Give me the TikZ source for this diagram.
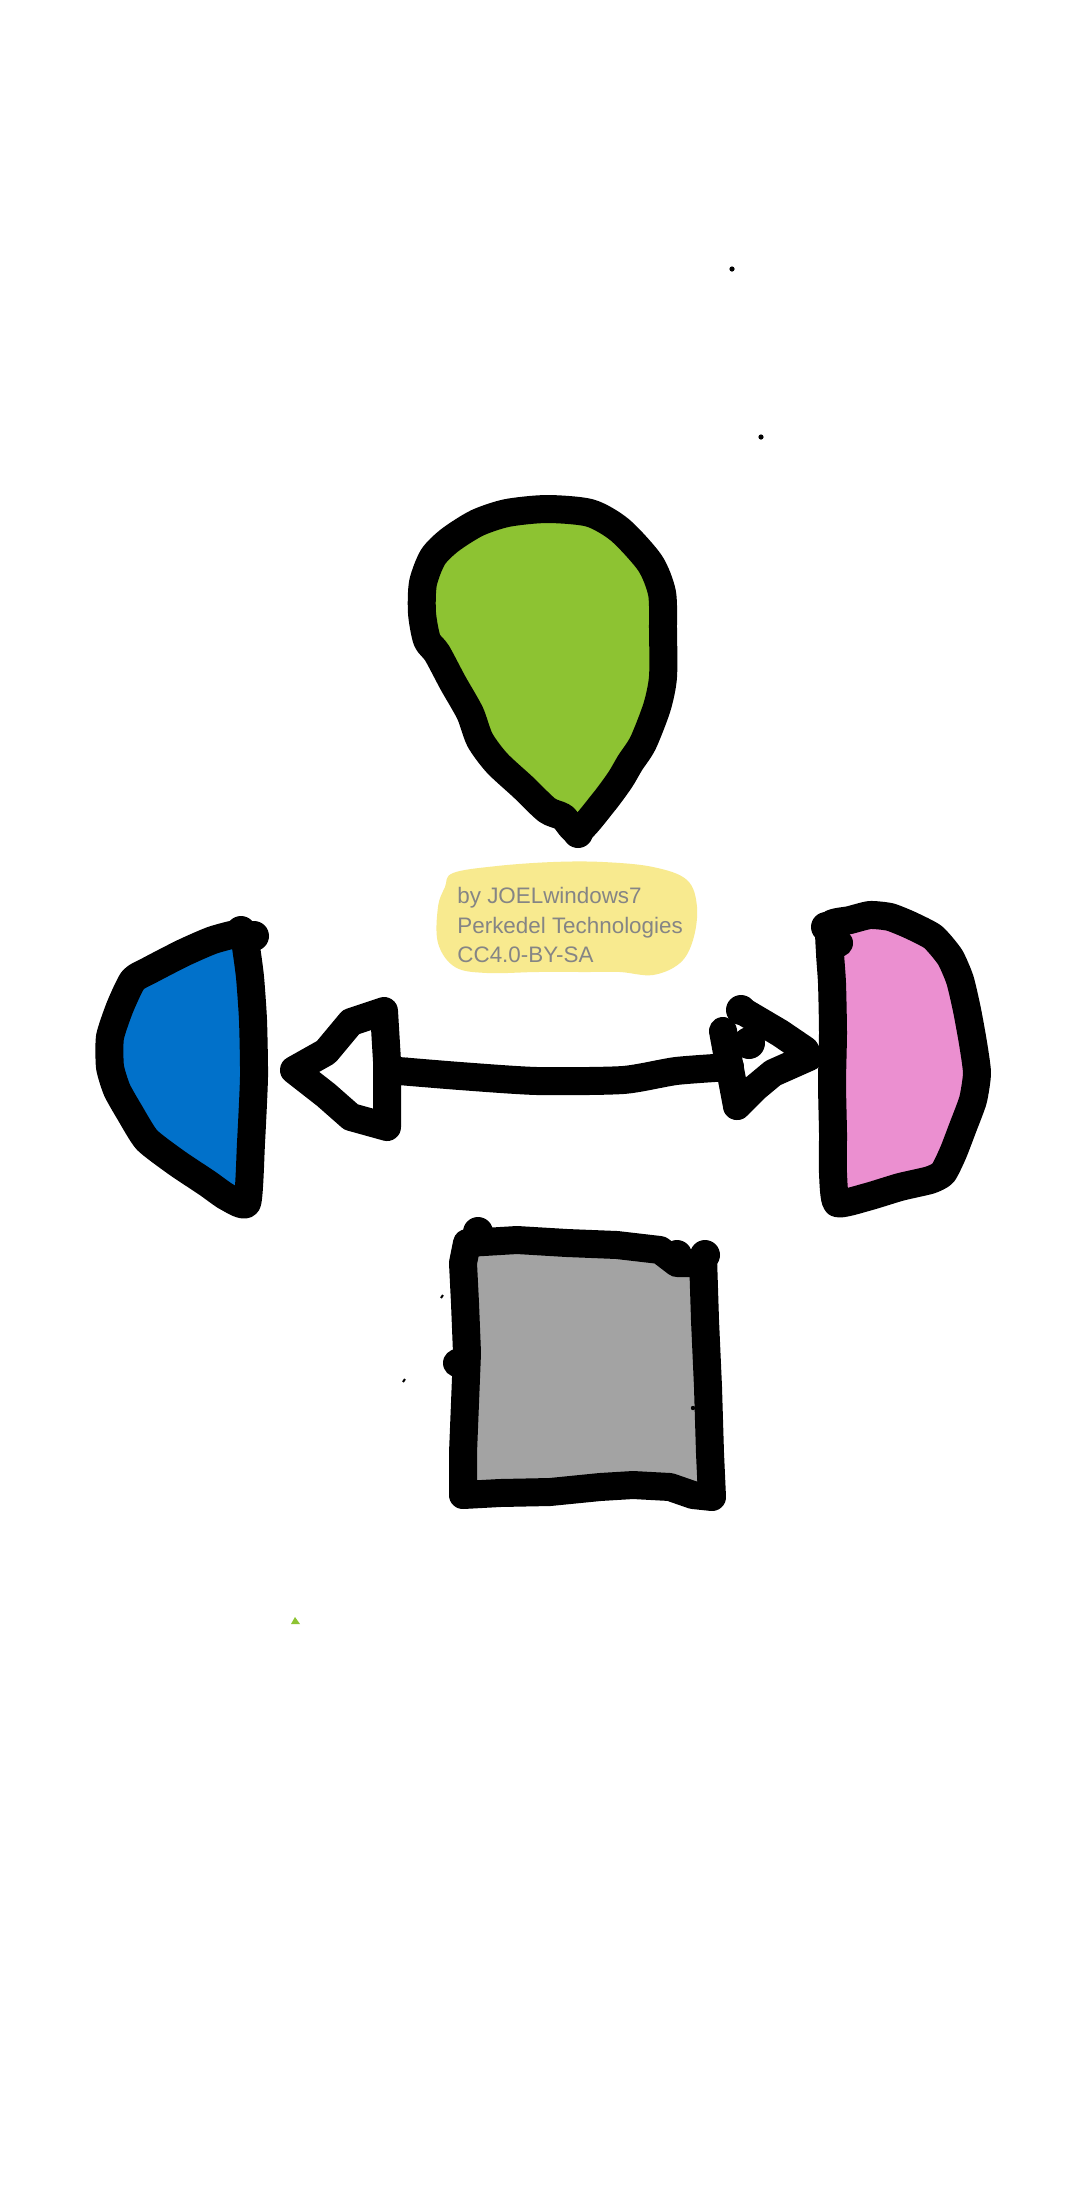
\documentclass[tikz,border=0pt]{standalone}
\usepackage{fontspec}
\setmainfont{Liberation Sans}
\definecolor{leafgreen}{HTML}{8DC332}
\definecolor{paleyellow}{HTML}{F8EA8F}
\definecolor{skyblue}{HTML}{0171CA}
\definecolor{softpink}{HTML}{EB8FD0}
\definecolor{boxgray}{HTML}{A3A3A3}
\definecolor{textgray}{HTML}{858585}
\begin{document}
\begin{tikzpicture}[x=0.5pt,y=-0.5pt,
  ink/.style={draw=black,line width=14pt,line join=round,line cap=round},
  blob/.style={fill=black},
  speck/.style={fill=black},
  credit/.style={anchor=base west,inner sep=0pt,text=textgray,font=\fontsize{11.2}{14}\selectfont}]
\useasboundingbox (0,0) rectangle (1080,2186);
\fill[white] (0,0) rectangle (1080,2186);

% green drop
\filldraw[ink,fill=leafgreen] plot[smooth cycle,tension=0.45] coordinates {
 (547,509) (590,513) (620,530) (650,563) (662,593) (663,630) (663,677) (657,707)
 (643,743) (630,763) (620,780) (603,803) (578,831) (563,817) (547,810) (523,787)
 (497,763) (480,740) (470,713) (453,683) (437,653) (427,640) (422,613) (423,583)
 (433,557) (450,540) (477,523) (507,513)};
\fill[blob] (578,833) circle[radius=7.5pt];

% yellow credit blob
\fill[paleyellow] plot[smooth cycle,tension=0.6] coordinates {
 (453,873) (497,866) (553,862) (603,862) (653,867) (687,880) (697,907) (693,940)
 (680,963) (653,975) (620,972) (587,972) (537,972) (487,973) (455,967) (438,943)
 (438,907) (445,887)};
\node[credit] (t1) at (457,903) {by JOELwindows7};
\node[credit] (t2) at (457,933) {Perkedel Technologies};
\node[credit] (t3) at (457,962) {CC4.0-BY-SA};

% blue half
\filldraw[ink,fill=skyblue] plot[smooth cycle,tension=0.35] coordinates {
 (243,933) (213,940) (183,953) (150,970) (133,980) (120,1007) (110,1037) (110,1067)
 (117,1090) (130,1113) (147,1140) (177,1163) (207,1183) (227,1197) (247,1203)
 (251,1143) (254,1077) (253,1020) (250,977) (246,947)};
\fill[blob] (241,931) circle[radius=7.5pt];
\fill[blob] (254,936) circle[radius=7.5pt];

% pink half
\filldraw[ink,fill=softpink] plot[smooth cycle,tension=0.35] coordinates {
 (830,925) (850,920) (870,915) (890,917) (910,925) (933,937) (950,957) (960,980)
 (967,1010) (973,1043) (977,1073) (973,1100) (963,1127) (953,1153) (943,1173)
 (930,1180) (900,1187) (867,1197) (837,1203) (833,1173) (833,1133) (832,1083)
 (833,1033) (832,983) (830,953)};
\fill[blob] (826,927) circle[radius=7.5pt];
\fill[blob] (839,943) circle[radius=7pt];

% double arrow
\draw[ink] plot[smooth,tension=0.4] coordinates {(387,1070) (460,1076) (537,1081) (623,1080) (676,1071) (730,1067)};
\draw[ink] (294,1070) -- (326,1052) -- (351,1022) -- (384,1011) -- (387,1061) -- (387,1097) -- (387,1127) -- (351,1117) -- (326,1095) -- cycle;
\draw[ink] (741,1010) -- (780,1033) -- (805,1050) -- (809,1057) -- (773,1073) -- (755,1088) -- (737,1106);
\draw[ink] (723,1031) -- (730,1069) -- (737,1106);
\fill[blob] (741,1010) circle[radius=7.5pt];
\fill[blob] (749,1043) circle[radius=8pt];

% gray box
\filldraw[ink,fill=boxgray] (467,1243) -- (517,1240) -- (567,1243) -- (617,1245) -- (660,1250)
 -- (677,1263) -- (703,1263) -- (703,1257) -- (705,1320) -- (708,1387) -- (710,1453) -- (712,1497)
 -- (693,1495) -- (670,1487) -- (633,1485) -- (600,1487) -- (550,1492) -- (500,1493) -- (463,1495)
 -- (463,1453) -- (465,1403) -- (467,1353) -- (465,1303) -- (463,1263) -- cycle;
\fill[blob] (478,1232) circle[radius=7.5pt];
\fill[blob] (677,1255) circle[radius=7.5pt];
\fill[blob] (705,1255) circle[radius=7.5pt];
\fill[blob] (457,1363) circle[radius=7pt];

% small specks
\fill[speck] (732,269) circle[radius=1.3pt];
\fill[speck] (761,437) circle[radius=1.3pt];
\fill[speck] (407,1060) circle[radius=1.2pt];
\fill[speck] (693,1408) circle[radius=1.1pt];
\draw[black,line width=1pt] (441,1298) -- (443,1295);
\draw[black,line width=1pt] (403,1382) -- (405,1379);
\fill[leafgreen] (291,1624) -- (295,1617) -- (300,1624) -- cycle;
\end{tikzpicture}
\end{document}
